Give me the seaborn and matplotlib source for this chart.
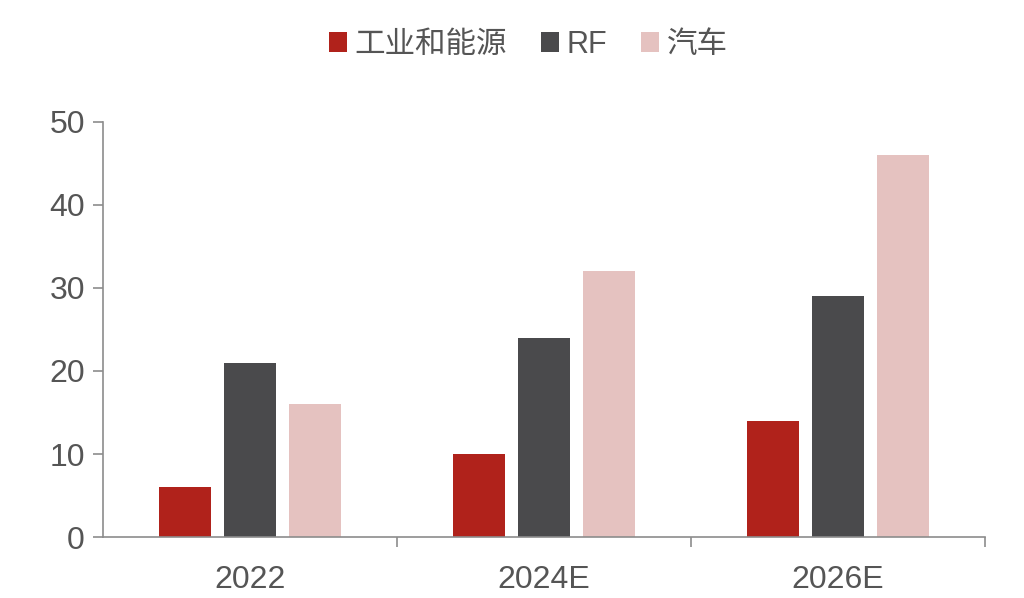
import pandas as pd
import seaborn as sns
import matplotlib.pyplot as plt
from matplotlib.patches import Patch

years = ['2022', '2024E', '2026E']
series = ['工业和能源', 'RF', '汽车']
industry = [6, 10, 14]
rf = [21, 24, 29]
auto = [16, 32, 46]
colors = ['#B0221B', '#4A4A4C', '#E5C2C0']

df = pd.DataFrame({
    'year': years * 3,
    'series': [s for s in series for _ in years],
    'value': industry + rf + auto,
})

sns.set_style('white')
plt.rcParams['font.family'] = ['Liberation Sans', 'Noto Sans CJK SC', 'DejaVu Sans']

fig = plt.figure(figsize=(10.24, 5.98), dpi=100)
ax = fig.add_axes([0.1006, 0.102, 0.8613, 0.694])

sns.barplot(df, x='year', y='value', hue='series', palette=colors,
            width=0.66, gap=0.2, saturation=1, linewidth=0, ax=ax, legend=False)

ax.set_xlim(-0.5, 2.5)
ax.set_ylim(0, 50)
ax.set_yticks(range(0, 51, 10))
ax.set_xlabel('')
ax.set_ylabel('')

for side in ['top', 'right']:
    ax.spines[side].set_visible(False)
for side in ['left', 'bottom']:
    ax.spines[side].set_color('#8C8C8C')
    ax.spines[side].set_linewidth(1.2)

ax.tick_params(axis='y', length=7, width=1.2, color='#8C8C8C', labelsize=23,
               labelcolor='#555555', pad=6, left=True)
ax.tick_params(axis='x', which='major', length=0, labelsize=23,
               labelcolor='#555555', pad=20)
ax.set_xticks([0.5, 1.5, 2.5], minor=True)
ax.tick_params(axis='x', which='minor', length=7, width=1.2, color='#8C8C8C', bottom=True)

handles = [Patch(facecolor=c, edgecolor='none') for c in colors]
fig.legend(handles, series, loc='center', bbox_to_anchor=(0.516, 0.925), ncol=3,
           frameon=False, fontsize=22, labelcolor='#555555',
           handlelength=0.6, handleheight=0.6, handletextpad=0.25, columnspacing=1.1)

fig.savefig('out.png', dpi=100)
